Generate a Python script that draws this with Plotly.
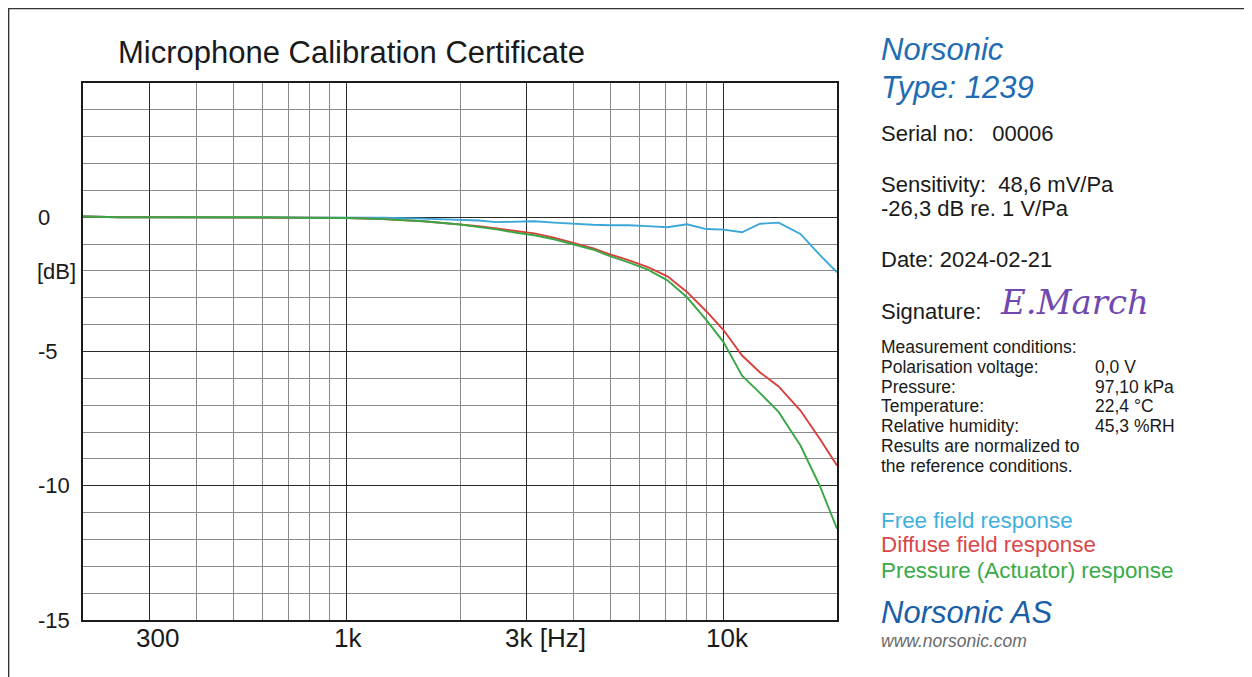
import numpy as np
import plotly.graph_objects as go

# ---------------- data (read from the certificate) ----------------
freq_hz = [200, 250, 315, 400, 500, 630, 800, 1000, 1250, 1600, 2000, 2240, 2500,
           2800, 3150, 3550, 4000, 4500, 5000, 5600, 6300, 7100, 8000, 9000,
           10000, 11200, 12500, 14000, 16000, 18000, 20000]

free_field_db = [0.03, 0.0, 0.0, 0.0, 0.0, 0.0, 0.0, 0.0, -0.02, -0.05, -0.1, -0.12, -0.18,
                 -0.16, -0.15, -0.2, -0.25, -0.28, -0.3, -0.3, -0.33, -0.37, -0.26, -0.44,
                 -0.46, -0.56, -0.24, -0.2, -0.62, -1.4, -2.05]

diffuse_field_db = [0.03, 0.0, 0.0, 0.0, 0.0, 0.0, -0.02, -0.03, -0.07, -0.15, -0.26, -0.33, -0.42,
                    -0.52, -0.6, -0.76, -0.96, -1.15, -1.38, -1.6, -1.86, -2.2, -2.78, -3.5,
                    -4.2, -5.15, -5.78, -6.3, -7.2, -8.25, -9.25]

pressure_db = [0.03, 0.0, 0.0, 0.0, 0.0, 0.0, -0.03, -0.03, -0.07, -0.15, -0.27, -0.35, -0.45,
               -0.57, -0.67, -0.82, -1.02, -1.2, -1.45, -1.68, -1.95, -2.35, -2.98, -3.82,
               -4.65, -5.9, -6.55, -7.25, -8.5, -10.0, -11.6]

series_names = ["Free field response", "Diffuse field response", "Pressure (Actuator) response"]
series_colors = ["#3aa7d8", "#d9403c", "#3aa646"]

x_major_ticks = [300, 1000, 3000, 10000]
x_tick_labels = ["300", "1k", "3k [Hz]", "10k"]
x_minor_grid = [200, 400, 500, 600, 700, 800, 900, 2000, 4000, 5000, 6000, 7000, 8000, 9000, 20000]
y_major_ticks = [-15, -10, -5, 0, 5]
y_tick_labels = ["-15", "-10", "-5", "0"]
y_minor_grid = [v for v in range(-15, 6) if v not in y_major_ticks]

# ---------------- layout helpers ----------------
# page pixel positions; the html body adds an 8px offset to the figure
OFF = 8
W, H = 1252 - OFF, 677 - OFF
L, R, T, B = 83, 837, 83, 620          # plot box in page pixels
def px(x):
    return (x - L) / (R - L)
def py(y):
    return (B - y) / (B - T)

FONT = "Liberation Sans, Arial, Helvetica, sans-serif"

fig = go.Figure()
for name, vals, col in [(series_names[0], free_field_db, series_colors[0]),
                        (series_names[1], diffuse_field_db, series_colors[1]),
                        (series_names[2], pressure_db, series_colors[2])]:
    fig.add_trace(go.Scatter(x=freq_hz, y=vals, mode="lines", name=name,
                             line=dict(color=col, width=1.9)))

fig.update_layout(
    width=W, height=H,
    margin=dict(l=L - OFF, r=(W + OFF) - R, t=T - OFF, b=(H + OFF) - B, pad=0),
    paper_bgcolor="white", plot_bgcolor="white",
    showlegend=False,
    font=dict(family=FONT, color="#1a1a1a"),
)
fig.update_xaxes(
    type="log", range=[np.log10(200), np.log10(20000)],
    tickmode="array", tickvals=x_major_ticks, ticktext=[""] * len(x_major_ticks),
    showticklabels=False, ticks="",
    showgrid=True, gridcolor="#2a2a2a", gridwidth=1.4,
    minor=dict(tickmode="array", tickvals=x_minor_grid, showgrid=True,
               gridcolor="#8a8a8a", gridwidth=1, ticks=""),
    showline=True, linecolor="#1a1a1a", linewidth=1.6, mirror=True,
    zeroline=False,
)
fig.update_yaxes(
    range=[-15, 5],
    tickmode="array", tickvals=y_major_ticks, showticklabels=False, ticks="",
    showgrid=True, gridcolor="#2a2a2a", gridwidth=1.4,
    minor=dict(tickmode="array", tickvals=y_minor_grid, showgrid=True,
               gridcolor="#8a8a8a", gridwidth=1, ticks=""),
    showline=True, linecolor="#1a1a1a", linewidth=1.6, mirror=True,
    zeroline=False,
)

ann = []
def text(x, y, s, size, color="#1a1a1a", italic=False, xanchor="left", family=FONT):
    ann.append(dict(x=px(x), y=py(y), xref="paper", yref="paper", text=s,
                    showarrow=False, xanchor=xanchor, yanchor="middle",
                    font=dict(size=size, color=color, family=family,
                              style="italic" if italic else "normal")))

# x tick labels (data coordinates on log axis)
x_label_shift = {"300": 8, "1k": 1, "3k [Hz]": -23, "10k": 4}
for v, lab in zip(x_major_ticks, x_tick_labels):
    ann.append(dict(x=np.log10(v), y=py(638), xref="x", yref="paper", text=lab,
                    showarrow=False, xanchor="left" if "Hz" in lab else "center",
                    xshift=x_label_shift[lab], yanchor="middle",
                    font=dict(size=26, color="#1a1a1a", family=FONT)))
# y tick labels
for v, lab in zip(y_major_ticks, y_tick_labels):
    ann.append(dict(x=px(36), y=v, xref="paper", yref="y", text=lab, showarrow=False,
                    xanchor="left", yanchor="middle",
                    font=dict(size=22, color="#1a1a1a", family=FONT)))
text(35, 271, "[dB]", 22)

# title
text(116, 52, "Microphone Calibration Certificate", 31)

# right panel
BLUE = "#1f6cb2"
text(879, 50, "Norsonic", 31, BLUE, italic=True)
text(879, 87, "Type: 1239", 31, BLUE, italic=True)
text(879, 133, "Serial no:\u00a0\u00a0 00006", 22)
text(879, 184, "Sensitivity:\u00a0 48,6 mV/Pa", 22)
text(879, 208, "-26,3 dB re. 1 V/Pa", 22)
text(879, 259, "Date: 2024-02-21", 22)
text(879, 311, "Signature:", 22)
text(998, 302, "E.March", 34, "#7048b0", italic=True, family="DejaVu Serif, serif")

cond_labels = ["Measurement conditions:", "Polarisation voltage:", "Pressure:", "Temperature:",
               "Relative humidity:", "Results are normalized to", "the reference conditions."]
cond_values = ["", "0,0 V", "97,10 kPa", "22,4 °C", "45,3 %RH", "", ""]
for i, (lab, val) in enumerate(zip(cond_labels, cond_values)):
    yy = 347 + i * 19.8
    text(879, yy, lab, 17.5)
    if val:
        text(1093, yy, val, 17.5)

text(879, 520, series_names[0], 22.4, "#3fb0dd")
text(879, 544, series_names[1], 22.4, "#d9474a")
text(879, 570, series_names[2], 22.4, "#3aaa48")
text(879, 612, "Norsonic AS", 31, "#1a5ea8", italic=True)
text(879, 641, "www.norsonic.com", 17.5, "#6a6a6a", italic=True)

fig.update_layout(annotations=ann)

# outer frame of the certificate page
fig.add_shape(type="path", xref="paper", yref="paper",
              path=f"M {px(8.6)} {py(690)} L {px(8.6)} {py(8.6)} L {px(1260)} {py(8.6)}",
              line=dict(color="#333333", width=1.5), layer="above")

fig.write_html("out.html")
